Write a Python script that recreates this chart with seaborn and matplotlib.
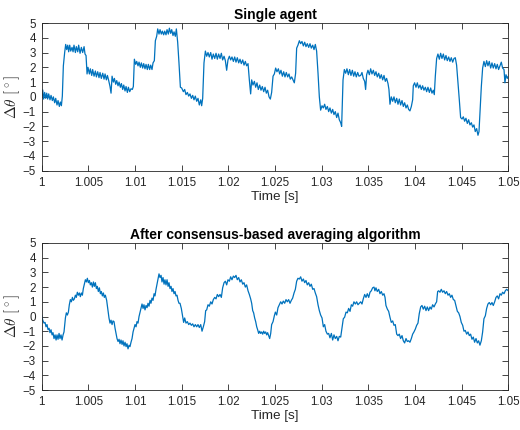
import numpy as np
import pandas as pd
import matplotlib
matplotlib.use("Agg")
import matplotlib.pyplot as plt
import seaborn as sns
from matplotlib.ticker import MultipleLocator, FuncFormatter

# ---------------- data (time offsets in ms after t = 1 s, angle error in degrees) ----------------
top1_ms = [0.00,0.11,0.21,0.32,0.43,0.54,0.64,0.75,0.89,1.00,1.14,1.25,1.39,1.50,1.64,1.75,1.89,2.00,2.11,2.21,
           2.32,2.46,2.57,2.68,2.79,2.89,3.00,3.11,3.25,3.36,3.46,3.61,3.71,3.86,3.96,4.11,4.25,4.39,4.54,4.64,
           4.75,4.86,4.96,5.11,5.21,5.36,5.46,5.61,5.75,5.86,6.00,6.14,6.25,6.39,6.54,6.68,6.79,6.93,7.04,7.18,
           7.32,7.43,7.54,7.68,7.79,7.93,8.04,8.18,8.29,8.43,8.54,8.68,8.79,8.93,9.04,9.18,9.29,9.43,9.57,9.71,
           9.82,9.93,10.07,10.18,10.32,10.43,10.57,10.68,10.82,10.93,11.07,11.18,11.32,11.43,11.57,11.68,11.82,11.93,12.07,12.18,
           12.32,12.43,12.57,12.68,12.82,12.93,13.07,13.18,13.32,13.43,13.57,13.68,13.82,13.93,14.07,14.18,14.32,14.43,14.57,14.71,
           14.86]
top1_val = [-0.05,0.47,-0.15,0.3,-0.1,0.25,-0.15,0.2,-0.2,0.1,-0.25,0.0,-0.4,-0.1,-0.55,-0.25,-0.65,-0.35,-0.6,0.05,
            2.1,3.0,3.55,3.2,3.5,3.05,3.5,3.1,3.35,3.05,3.5,3.0,3.4,3.05,3.5,2.95,3.35,3.0,3.4,2.9,
            2.8,1.55,2.0,1.55,1.9,1.45,1.85,1.4,1.75,1.35,1.7,1.3,1.65,1.25,1.6,1.2,1.55,1.15,1.45,1.1,
            0.7,0.25,1.4,1.0,1.25,0.85,1.1,0.75,1.0,0.65,0.9,0.5,0.8,0.4,0.7,0.3,0.65,0.35,0.55,0.5,
            0.7,2.55,2.2,2.4,2.1,2.35,2.0,2.3,1.95,2.25,1.9,2.2,1.85,2.2,1.85,2.15,1.85,2.3,2.45,3.8,
            4.1,4.6,4.25,4.55,4.25,4.45,4.2,4.45,4.2,4.55,4.25,4.65,4.3,4.55,4.15,4.4,4.1,4.6,3.7,2.3,
            0.65]

top2_ms = [15.00,15.18,15.32,15.46,15.61,15.75,15.89,16.04,16.18,16.32,
           16.46,16.61,16.75,16.89,17.04,17.14,17.25,17.39,17.54,17.68,
           17.82,17.96,18.11,18.25,18.39,18.54,18.68,18.82,18.96,19.11,
           19.25,19.39,19.54,19.68,19.82,19.96,20.11,20.25,20.39,20.54,
           20.68,20.82,20.96,21.11,21.25,21.39,21.54,21.68,21.82,21.96,
           22.11,22.25,22.39,22.50,22.64,22.79,22.93,23.07,23.21,23.36,
           23.50,23.64,23.79,23.93,24.07,24.21,24.36,24.50,24.64,24.79,
           24.93,25.07,25.21,25.36,25.50,25.64,25.79,25.93,26.07,26.21,
           26.36,26.50,26.64,26.79,26.93,27.07,27.21,27.32,27.46,27.61,
           27.75,27.89,28.04,28.18,28.32,28.46,28.61,28.75,28.89,29.04,
           29.18,29.32,29.46,29.61,29.75,29.89,30.04,30.18,30.32,30.46,
           30.61,30.75,30.89,31.04,31.18,31.32,31.46,31.61,31.75,31.89,
           32.04,32.14,32.29,32.43,32.57,32.71,32.86,33.00,33.14,33.29,
           33.43,33.57,33.71,33.86,34.00]
top2_val = [0.6,0.35,0.5,0.15,0.3,0.05,0.2,-0.1,0.1,-0.2,
            0.05,-0.3,-0.1,-0.55,-0.2,-0.6,-0.1,2.3,3.1,2.75,
            3.0,2.7,3.0,2.55,2.9,2.6,2.95,2.55,2.9,2.6,
            2.95,2.5,2.75,2.45,1.8,2.5,2.75,2.5,2.7,2.4,
            2.7,2.35,2.65,2.3,2.55,2.25,2.5,2.15,2.4,2.1,
            2.25,1.15,0.2,1.15,0.8,1.05,0.65,0.95,0.5,0.8,
            0.45,0.7,0.35,0.65,0.25,0.45,0.0,-0.15,0.3,1.4,
            1.55,1.95,1.7,1.9,1.55,1.8,1.4,1.7,1.35,1.65,
            1.35,1.55,1.2,1.35,1.15,0.95,1.6,3.3,3.5,3.8,
            3.6,3.75,3.45,3.7,3.4,3.6,3.35,3.6,3.3,3.5,
            3.2,3.55,3.1,1.6,0.0,-0.9,-0.6,-0.75,-0.5,-0.85,
            -0.65,-1.0,-0.75,-1.1,-0.85,-1.2,-1.0,-1.4,-1.1,-1.55,
            -1.75,-2.0,1.15,1.85,1.6,1.9,1.5,1.85,1.45,1.8,
            1.4,1.7,1.35,1.65,1.4]

top3_ms = [34.18,34.32,34.46,34.61,34.71,34.82,34.96,35.11,35.25,35.39,
           35.54,35.68,35.82,35.96,36.11,36.25,36.39,36.54,36.68,36.82,
           36.96,37.11,37.21,37.32,37.46,37.61,37.75,37.89,38.04,38.18,
           38.32,38.46,38.61,38.75,38.89,39.04,39.18,39.32,39.46,39.61,
           39.75,39.82,39.96,40.11,40.25,40.39,40.54,40.68,40.82,40.96,
           41.11,41.25,41.39,41.54,41.68,41.82,41.96,42.07,42.18,42.32,
           42.46,42.61,42.75,42.89,43.04,43.18,43.32,43.46,43.61,43.75,
           43.89,44.04,44.18,44.32,44.46,44.61,44.75,44.89,45.04,45.18,
           45.32,45.46,45.61,45.75,45.89,46.04,46.18,46.32,46.46,46.61,
           46.75,46.86,46.96,47.11,47.25,47.39,47.54,47.68,47.82,47.96,
           48.11,48.25,48.39,48.54,48.68,48.82,48.96,49.11,49.25,49.39,
           49.54,49.64,49.75,49.89,50.00]
top3_val = [1.45,1.65,1.25,1.05,0.5,1.5,1.8,1.5,1.9,1.55,
            1.8,1.45,1.7,1.35,1.6,1.25,1.5,1.15,1.45,1.05,
            1.25,0.9,0.5,-0.5,0.0,-0.3,0.0,-0.4,-0.1,-0.5,
            -0.15,-0.55,-0.25,-0.65,-0.4,-0.75,-0.55,-0.85,-0.95,-0.65,
            -0.2,0.75,0.95,0.65,0.95,0.6,0.8,0.5,0.75,0.45,
            0.65,0.35,0.65,0.3,0.6,0.25,0.45,0.15,1.4,2.6,
            2.9,2.55,2.95,2.6,2.9,2.5,2.8,2.45,2.7,2.4,
            2.65,2.35,2.6,2.65,2.15,0.95,-0.2,-1.4,-1.5,-1.35,
            -1.65,-1.45,-1.8,-1.55,-1.9,-1.75,-2.05,-1.9,-2.35,-2.15,
            -2.6,-2.35,-1.1,0.7,1.95,2.4,2.05,2.45,2.1,2.4,
            1.95,2.3,1.95,2.25,1.9,2.2,1.85,2.1,2.35,1.95,
            1.85,0.95,1.5,1.25,1.4]

bot1_ms = [0.00,0.11,0.25,0.36,0.46,0.57,0.68,0.79,0.89,1.00,
           1.11,1.21,1.32,1.43,1.54,1.64,1.75,1.86,1.96,2.07,
           2.18,2.29,2.39,2.54,2.64,2.75,2.86,2.96,3.07,3.18,
           3.29,3.39,3.50,3.61,3.71,3.82,3.93,4.04,4.14,4.25,
           4.36,4.46,4.57,4.68,4.79,4.89,5.00,5.11,5.21,5.32,
           5.43,5.54,5.64,5.75,5.86,5.96,6.07,6.18,6.29,6.39,
           6.50,6.61,6.71,6.82,6.96,7.07,7.21,7.32,7.43,7.54,
           7.64,7.75,7.86,7.96,8.07,8.18,8.29,8.39,8.50,8.61,
           8.71,8.82,8.93,9.04,9.14,9.25,9.36,9.46,9.57,9.68,
           9.79,9.89,10.00,10.11,10.21,10.32,10.43,10.54,10.64,10.75,
           10.86,10.96,11.07,11.18,11.29,11.39,11.50,11.61,11.71,11.82,
           11.93,12.04,12.14,12.25,12.36,12.46,12.57,12.68,12.79,12.89,
           13.00,13.11,13.21,13.32,13.43,13.54,13.64,13.75,13.86,13.96,
           14.07,14.18,14.29,14.39,14.50,14.61,14.71]
bot1_val = [0.1,-0.25,-0.45,-0.4,-0.7,-0.55,-0.9,-0.8,-1.1,-0.9,
            -1.25,-1.1,-1.5,-1.25,-1.6,-1.25,-1.55,-1.15,-1.5,-1.25,
            -1.6,-1.25,-1.05,-0.1,0.25,0.1,0.3,0.8,1.15,1.0,
            1.3,1.1,1.2,1.45,1.3,1.65,1.45,1.6,1.35,1.6,
            1.45,1.9,2.2,2.5,2.35,2.6,2.3,2.45,2.15,2.3,
            2.0,2.35,2.05,2.3,1.9,2.05,1.7,1.95,1.55,1.7,
            1.4,1.6,1.3,1.45,1.1,0.55,-0.1,-0.45,-0.25,-0.55,
            -0.3,-0.35,-0.8,-1.15,-1.5,-1.7,-1.55,-1.85,-1.6,-1.9,
            -1.65,-2.0,-1.75,-2.05,-1.85,-2.2,-1.95,-2.05,-1.75,-1.5,
            -1.05,-0.8,-0.55,-0.7,-0.35,-0.45,0.0,0.3,0.6,0.85,
            0.55,0.8,0.45,0.75,0.6,0.9,0.7,1.1,0.9,1.25,
            1.1,1.55,1.4,1.85,2.2,2.5,2.9,2.65,2.8,2.35,
            2.65,2.2,2.5,2.15,2.5,2.05,2.3,1.9,2.05,1.7,
            1.9,1.55,1.7,1.4,1.45,1.1,0.9]

bot2_ms = [14.82,14.96,15.11,15.21,15.32,15.46,15.61,15.75,15.89,16.04,
           16.18,16.32,16.46,16.61,16.75,16.89,17.04,17.18,17.32,17.46,
           17.57,17.68,17.82,17.96,18.11,18.25,18.39,18.54,18.68,18.82,
           18.96,19.11,19.25,19.39,19.54,19.68,19.82,19.96,20.11,20.25,
           20.39,20.54,20.68,20.82,20.96,21.11,21.25,21.39,21.54,21.68,
           21.82,21.96,22.11,22.25,22.39,22.50,22.61,22.71,22.82,22.93,
           23.04,23.14,23.25,23.36,23.46,23.57,23.68,23.79,23.89,24.00,
           24.11,24.21,24.32,24.43,24.54,24.64,24.79,24.93,25.04,25.18,
           25.32,25.46,25.61,25.75,25.89,26.04,26.18,26.32,26.46,26.61,
           26.75,26.89,27.04,27.18,27.32,27.46,27.61,27.75,27.89,28.04,
           28.18,28.32,28.46,28.61,28.75,28.89,29.04,29.18,29.32,29.46,
           29.61,29.75,29.89,30.04,30.18,30.32,30.46,30.61,30.75,30.89,
           31.04,31.18,31.32,31.46,31.61,31.75,31.89,32.04,32.18,32.32,
           32.46,32.61,32.75,32.89,33.04,33.18,33.32,33.46,33.61,33.75,
           33.89,34.04]
bot2_val = [0.9,0.55,0.0,-0.4,-0.1,-0.45,-0.35,-0.55,-0.45,-0.6,
            -0.5,-0.7,-0.55,-0.7,-0.55,-0.75,-0.55,-1.0,-0.7,-0.35,
            0.4,0.45,0.8,0.7,1.0,0.85,1.15,1.3,1.2,1.5,
            1.35,1.5,1.3,1.95,2.3,2.4,2.15,2.5,2.4,2.7,
            2.5,2.75,2.65,2.8,2.5,2.65,2.35,2.5,2.2,2.3,
            2.0,2.15,1.75,1.5,1.2,0.9,0.4,0.25,-0.1,-0.35,
            -0.7,-0.9,-1.15,-1.0,-1.15,-1.05,-1.2,-1.0,-1.15,-1.05,
            -1.25,-1.1,-1.3,-1.5,-1.15,-0.55,-0.35,0.05,0.3,0.1,
            0.6,0.8,1.0,0.85,1.05,0.9,1.15,1.0,1.15,0.9,
            1.1,1.25,1.6,1.85,2.4,2.6,2.55,2.7,2.4,2.55,
            2.3,2.45,2.15,2.3,2.05,2.2,1.85,1.9,1.6,1.35,
            0.8,0.4,0.1,-0.1,-0.7,-0.55,-1.0,-1.2,-1.15,-1.45,
            -1.15,-1.6,-1.25,-1.5,-1.35,-1.65,-1.35,-1.4,-0.8,-0.15,
            -0.05,0.3,0.25,0.55,0.35,0.8,0.7,1.0,0.85,1.0,
            0.8,0.9]

bot3_ms = [34.18,34.32,34.46,34.61,34.75,34.89,35.04,35.18,35.32,35.46,
           35.61,35.71,35.82,35.96,36.11,36.25,36.39,36.54,36.68,36.79,
           36.89,37.04,37.18,37.32,37.46,37.61,37.75,37.89,38.04,38.18,
           38.32,38.46,38.61,38.75,38.89,39.04,39.18,39.32,39.46,39.61,
           39.75,39.89,40.04,40.18,40.32,40.46,40.61,40.75,40.89,41.04,
           41.18,41.32,41.46,41.61,41.75,41.89,42.04,42.18,42.32,42.43,
           42.54,42.68,42.82,42.96,43.11,43.25,43.39,43.54,43.68,43.82,
           43.96,44.11,44.25,44.39,44.54,44.68,44.82,44.96,45.11,45.25,
           45.39,45.54,45.68,45.82,45.96,46.11,46.25,46.39,46.54,46.68,
           46.82,46.96,47.11,47.25,47.39,47.54,47.68,47.82,47.96,48.11,
           48.25,48.39,48.54,48.68,48.82,48.96,49.11,49.25,49.39,49.54,
           49.68,49.82,50.00]
bot3_val = [1.0,0.85,1.2,1.5,1.3,1.55,1.3,1.65,1.75,1.95,
            2.0,1.75,1.95,1.7,1.85,1.55,1.7,1.45,1.55,1.3,
            0.75,0.5,0.35,-0.05,-0.4,-0.3,-0.6,-0.55,-1.2,-1.3,
            -1.2,-1.5,-1.3,-1.65,-1.8,-1.5,-1.7,-1.65,-1.75,-1.5,
            -1.2,-1.05,-0.85,-0.6,-0.45,0.2,0.65,0.75,0.5,0.7,
            0.4,0.65,0.4,0.65,0.5,0.8,0.65,0.85,1.0,1.7,
            1.75,1.65,1.85,1.65,1.75,1.55,1.7,1.45,1.55,1.3,
            1.45,1.15,1.1,0.75,0.35,0.25,0.0,-0.4,-0.6,-1.0,
            -0.95,-1.2,-1.05,-1.3,-1.2,-1.55,-1.4,-1.75,-1.5,-1.8,
            -1.65,-1.95,-1.65,-1.05,-0.15,0.05,0.55,0.85,0.95,0.8,
            0.95,0.75,1.0,1.3,1.4,1.2,1.55,1.45,1.65,1.55,
            1.75,1.85,1.75]

titles = ["Single agent", "After consensus-based averaging algorithm"]
x_label = "Time [s]"
y_label = r"$\mathit{\Delta\theta}\ [^\circ]$"
t0 = 1.0

# ---------------- assemble ----------------
df_top = pd.DataFrame({"t": t0 + np.array(top1_ms + top2_ms + top3_ms) / 1000.0,
                       "v": top1_val + top2_val + top3_val})
df_bot = pd.DataFrame({"t": t0 + np.array(bot1_ms + bot2_ms + bot3_ms) / 1000.0,
                       "v": bot1_val + bot2_val + bot3_val})

sns.set_theme(style="ticks")
plt.rcParams["font.family"] = ["Liberation Sans", "DejaVu Sans"]
plt.rcParams["mathtext.fontset"] = "cm"

dark = "#262626"
line_col = "#0072BD"

fig = plt.figure(figsize=(5.2, 4.3), dpi=100)
ax1 = fig.add_axes([0.0802, 0.6030, 0.8973, 0.3435])
ax2 = fig.add_axes([0.0802, 0.0930, 0.8973, 0.3419])

fmt = FuncFormatter(lambda v, p: ("%.3f" % v).rstrip("0").rstrip("."))

for ax, df, title in [(ax1, df_top, titles[0]), (ax2, df_bot, titles[1])]:
    sns.lineplot(data=df, x="t", y="v", ax=ax, color=line_col, linewidth=0.9,
                 estimator=None, sort=False)
    ax.set_xlim(1.0, 1.05)
    ax.set_ylim(-5, 5)
    ax.xaxis.set_major_locator(MultipleLocator(0.005))
    ax.yaxis.set_major_locator(MultipleLocator(1))
    ax.xaxis.set_major_formatter(fmt)
    ax.tick_params(direction="in", top=True, right=True, length=4, width=0.6,
                   labelsize=8.4, colors=dark, pad=4.2)
    for sp in ax.spines.values():
        sp.set_visible(True)
        sp.set_linewidth(0.6)
        sp.set_color(dark)
    ax.set_title(title, fontweight="bold", fontsize=10, color="black", pad=3)
    ax.set_xlabel(x_label, fontsize=9.7, color=dark, labelpad=1.5)
    ax.set_ylabel(y_label, fontsize=11, color=dark, labelpad=0.5)

fig.savefig("out.png", dpi=100)
